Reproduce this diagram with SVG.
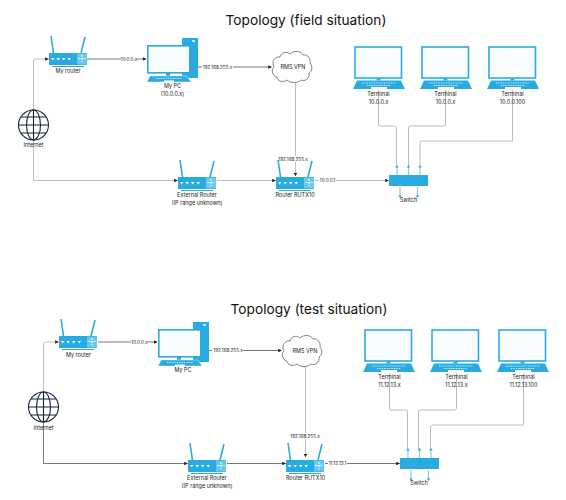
<svg xmlns="http://www.w3.org/2000/svg" width="566" height="500" viewBox="0 0 566 500">
<style>
text{font-family:Inter,"Noto Sans","Liberation Sans",sans-serif;font-size:5.5px;fill:#222;text-anchor:middle;dominant-baseline:central}
.title{font-size:13.7px;fill:#111}
.e{font-size:4.6px}
.b{fill:#29abe2}
.w{fill:#fff}
.scr{fill:#f8fcff;stroke:#29abe2;stroke-width:1.6}
.ant{stroke:#29abe2;stroke-width:1.6;fill:none}
.c{fill:none;stroke:#bdbdbd;stroke-width:1}
.m{marker-end:url(#a)}
.d{stroke:#777}
.lb{fill:#fff;stroke:none}
.gl{fill:none;stroke:#14233c;stroke-width:1.1}
.cl{fill:#fff;stroke:#333;stroke-width:.6}
.sa{stroke:#7fd0f0;stroke-width:1.2}
</style>
<defs>
<marker id="a" viewBox="0 0 6 6" refX="5.5" refY="3" markerWidth="3.6" markerHeight="3.6" markerUnits="userSpaceOnUse" orient="auto"><path d="M0 0L6 3L0 6Z" fill="#222"/></marker>
<symbol id="router" overflow="visible">
<path class="ant" d="M4.500 17L2 0M32 17L36 1"/>
<rect class="b" x="0" y="17" width="38" height="12"/>
<rect x="28" y="17.500" width="10" height="11" fill="#6ac7ee"/>
<path d="M33 19v7M29.500 22.500h7" stroke="#fff" stroke-width="1" stroke-dasharray="2 1"/>
<path class="w" d="M2 22h3.400l-1.700 2.400zM7.500 22h3.400l-1.700 2.400zM13 22h3.400l-1.700 2.400zM18.500 22h3.400l-1.700 2.400z"/>
<rect class="b" x="3" y="30" width="32" height="1"/>
</symbol>
<symbol id="pc" overflow="visible">
<rect class="b" x="35" y="0" width="16" height="40"/>
<rect x="45" y="2" width="3" height="2" fill="#bfe8f8"/>
<rect class="scr" x="0.800" y="7.800" width="42" height="27"/>
<rect class="b" x="19" y="35" width="4" height="3"/>
<path class="b" d="M3 38H40L44 44H0Z" stroke="#fff" stroke-width=".4"/>
<path d="M9 40.500H35" stroke="#cdeefb" stroke-width="1" stroke-dasharray="1 .7"/>
<rect class="w" x="17" y="42.500" width="10" height="1.500"/>
</symbol>
<symbol id="term" overflow="visible">
<rect class="scr" x="1" y="1" width="46.500" height="31"/>
<rect class="b" x="22.500" y="32.500" width="4" height="2"/>
<path class="b" d="M3 34.500H47L51 43H-1Z"/>
<path d="M8 37H42M13 39.500H37" stroke="#cdeefb" stroke-width="1" stroke-dasharray="1 .7"/>
<rect class="w" x="17" y="41" width="16" height="2"/>
</symbol>
<symbol id="switch" overflow="visible">
<rect class="b" x="0" y="10" width="39" height="11"/>
<path class="sa" d="M8 10V2M19.500 10V2M31 10V2M11 22V31M28.500 22V31"/>
<path class="b" d="M8 0l1.800 2.500h-3.600zM19.500 0l1.800 2.500h-3.600zM31 0l1.800 2.500h-3.600zM11 33l1.800-2.500h-3.600zM28.500 33l1.800-2.500h-3.600z"/>
</symbol>
<symbol id="globe" overflow="visible">
<circle class="gl" cx="0" cy="0" r="15"/>
<ellipse class="gl" cx="0" cy="0" rx="7" ry="15"/>
<path class="gl" d="M0-15V15M-15 0H15M-12.500-8H12.500M-12.500 8H12.500"/>
</symbol>
<symbol id="cloud" overflow="visible">
<path class="cl" d="M8 6C9 1 15 0 18 3C22-1 29 0 31 4C36 3 39 8 38 12C41 15 40 21 37 22C38 27 33 31 29 29C25 33 18 32 15 29C11 32 5 30 5 26C0 25-1 18 2 16C-1 11 3 5 8 6Z"/>
</symbol>
</defs>

<text class="title" x="306" y="20">Topology (field situation)</text>
<text class="title" x="309" y="309">Topology (test situation)</text>

<g id="connectors">
<path class="c m" d="M33.500 110V61Q33.500 59 35.500 59H48.500"/>
<path class="c d m" d="M87 59H146"/>
<path class="c d m" d="M198 67H271.500"/>
<path class="c m" d="M295.500 82V176"/>
<path class="c m" d="M33.500 140V180.500H177.500"/>
<path class="c m" d="M217 180.500H275.500"/>
<path class="c m" d="M315 180.500H388.500"/>
<path class="c" d="M378.500 90V124Q378.500 126 380.500 126H394.500Q396.500 126 396.500 128V167"/>
<path class="c" d="M445.500 90V124Q445.500 126 443.500 126H410.500Q408.500 126 408.500 128V167"/>
<path class="c" d="M512.500 90V141H422Q420 141 420 143V167"/>

<path class="c m" d="M43.500 393V344Q43.500 342 45.500 342H58.500"/>
<path class="c d m" d="M98 342H157"/>
<path class="c d m" d="M209 350.500H281.500"/>
<path class="c m" d="M305.500 366V457"/>
<path class="c d m" d="M43.500 423V463.500H187.500"/>
<path class="c d m" d="M227 463.500H285.500"/>
<path class="c d m" d="M325 463.500H399.500"/>
<path class="c" d="M389.500 373V408Q389.500 410 391.500 410H405.500Q407.500 410 407.500 412V450"/>
<path class="c" d="M456.500 373V408Q456.500 410 454.500 410H420.500Q418.500 410 418.500 412V450"/>
<path class="c" d="M523.500 373V425H432.500Q430.500 425 430.500 427V450"/>

<rect class="lb" x="121" y="56" width="16" height="6"/><text class="e" x="129" y="59">10.0.0.x</text>
<rect class="lb" x="202" y="64" width="31" height="6"/><text class="e" x="217.500" y="67">192.168.255.x</text>
<rect class="lb" x="278" y="156" width="31" height="6"/><text class="e" x="293" y="159">192.168.255.x</text>
<rect class="lb" x="319" y="177" width="17" height="6"/><text class="e" x="327.500" y="180">10.0.0.1</text>
<rect class="lb" x="131" y="339" width="17" height="6"/><text class="e" x="139.500" y="342">10.0.0.x</text>
<rect class="lb" x="212" y="347" width="31" height="6"/><text class="e" x="228" y="350">192.168.255.x</text>
<rect class="lb" x="290" y="433" width="31" height="6"/><text class="e" x="305" y="436">192.168.255.x</text>
<rect class="lb" x="328" y="460" width="19" height="6"/><text class="e" x="337.500" y="463">11.12.13.1</text>
</g>

<g id="internet1"><use href="#globe" x="33.500" y="125"/><text x="33.500" y="145">Internet</text></g>
<g id="myrouter1"><use href="#router" x="49" y="36"/><text x="68" y="71">My router</text></g>
<g id="mypc1"><use href="#pc" x="147" y="38"/><text x="172.500" y="86">My PC</text><text x="172.500" y="94">(10.0.0.x)</text></g>
<g id="cloud1"><use href="#cloud" x="272" y="51"/><text x="293" y="66.500">RMS VPN</text></g>
<g id="terminal1"><use href="#term" x="354" y="46"/><text x="378.500" y="94">Terminal</text><text x="378.500" y="102">10.0.0.x</text></g>
<g id="terminal2"><use href="#term" x="421" y="46"/><text x="445.500" y="94">Terminal</text><text x="445.500" y="102">10.0.0.x</text></g>
<g id="terminal3"><use href="#term" x="488" y="46"/><text x="512.500" y="94">Terminal</text><text x="512.500" y="102">10.0.0.100</text></g>
<g id="extrouter1"><use href="#router" x="178" y="160"/><text x="197" y="194.500">External Router</text><text x="197" y="202.500">(IP range unknown)</text></g>
<g id="rutx1"><use href="#router" x="276" y="160"/><text x="295" y="194.500">Router RUTX10</text></g>
<g id="switch1"><use href="#switch" x="389" y="165"/><text x="408.500" y="200">Switch</text></g>

<g id="internet2"><use href="#globe" x="43.500" y="407"/><text x="43.500" y="428">Internet</text></g>
<g id="myrouter2"><use href="#router" x="59" y="319"/><text x="78.500" y="354.500">My router</text></g>
<g id="mypc2"><use href="#pc" x="158" y="322"/><text x="183" y="370">My PC</text></g>
<g id="cloud2"><use href="#cloud" x="282" y="335"/><text x="305" y="350.500">RMS VPN</text></g>
<g id="terminal4"><use href="#term" x="364" y="329"/><text x="389.500" y="377">Terminal</text><text x="389.500" y="385">11.12.13.x</text></g>
<g id="terminal5"><use href="#term" x="431" y="329"/><text x="456.500" y="377">Terminal</text><text x="456.500" y="385">11.12.13.x</text></g>
<g id="terminal6"><use href="#term" x="498" y="329"/><text x="523.500" y="377">Terminal</text><text x="523.500" y="385">11.12.13.100</text></g>
<g id="extrouter2"><use href="#router" x="188" y="443"/><text x="207" y="477.500">External Router</text><text x="207" y="486">(IP range unknown)</text></g>
<g id="rutx2"><use href="#router" x="286" y="443"/><text x="305.500" y="478">Router RUTX10</text></g>
<g id="switch2"><use href="#switch" x="400" y="448"/><text x="419" y="483">Switch</text></g>
</svg>
